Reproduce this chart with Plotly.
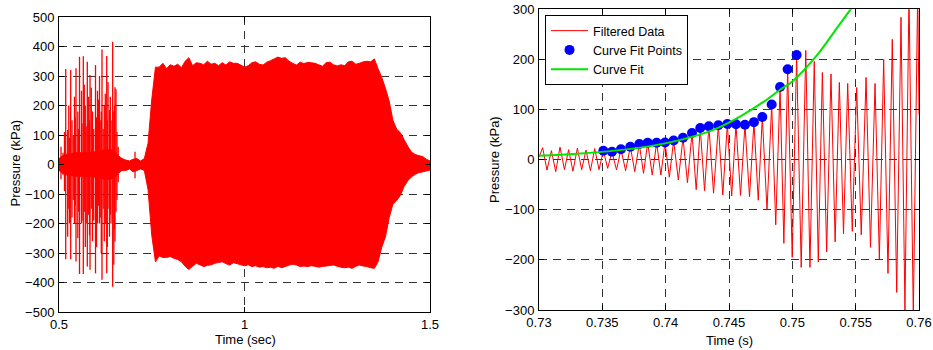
import plotly.graph_objects as go

# ---------------- Left panel data (Pressure vs Time, 0.5-1.5 s) ----------------
# envelope of the dense oscillation, read on a 0.01 s grid
env_t = [round(0.50 + 0.01 * i, 2) for i in range(101)]
env_hi = [20, 30, 35, 35, 40, 40, 40, 40, 40, 40, 45, 45, 50, 50, 50, 45, 30,
          20, 15, 12, 18, 20, 12, 20, 72, 220, 330,
          330, 343, 325, 338, 333, 340, 328, 350, 362, 335, 345, 343, 338, 350, 340, 343, 335,
          345, 337, 348, 343, 343, 337, 330, 335, 345, 348, 340, 337, 347, 352, 358, 364, 360,
          362, 350, 343, 337, 347, 342, 346, 345, 343, 338, 333, 345, 347, 338, 334, 338, 335,
          348, 350, 340, 343, 348, 350, 348, 358, 325, 295, 258, 215, 150, 120, 108, 85, 62,
          42, 34, 30, 27, 18, 12]
env_lo = [-20, -30, -35, -35, -40, -40, -40, -40, -40, -40, -45, -45, -50, -50, -50, -45, -30,
          -20, -20, -15, -25, -20, -15, -20, -85, -240, -330,
          -310, -315, -315, -312, -318, -322, -330, -345, -356, -345, -335, -340, -346, -342,
          -340, -335, -332, -330, -336, -341, -333, -336, -340, -343, -340, -346, -343, -348,
          -346, -350, -348, -352, -345, -350, -346, -341, -338, -341, -346, -344, -346, -343,
          -345, -348, -346, -344, -342, -341, -345, -348, -350, -348, -352, -345, -341, -344,
          -346, -350, -352, -330, -280, -245, -180, -135, -122, -105, -75, -55, -42, -33, -28,
          -25, -22, -19]

# individual spikes of the early bursts
spike_t = [0.5054, 0.5108, 0.5148, 0.5181, 0.5234, 0.5264, 0.5283, 0.5315, 0.5350, 0.5385,
           0.5418, 0.5437, 0.5458, 0.5507, 0.5526, 0.5553, 0.5606, 0.5620, 0.5655, 0.5682,
           0.5709, 0.5733, 0.5763, 0.5800, 0.5822, 0.5836, 0.5870, 0.5903, 0.5935, 0.5984,
           0.6011, 0.6038, 0.6065, 0.6092, 0.6127, 0.6140, 0.6159, 0.6191, 0.6221, 0.6248,
           0.6286, 0.6302, 0.6321, 0.6361, 0.6383, 0.6402, 0.6447, 0.6477, 0.6496, 0.6509,
           0.6536, 0.6563, 0.6596, 0.7049]
spike_hi = [60, 40, 110, 324, 117, 200, 90, 320, 150, 100,
            230, 160, 326, 180, 120, 365, 250, 140, 367, 270,
            200, 130, 348, 230, 150, 303, 260, 180, 120, 337,
            160, 250, 220, 300, 150, 180, 390, 120, 200, 240,
            368, 150, 280, 185, 230, 150, 416, 180, 200, 262,
            255, 110, 60, 43]
spike_lo = [-50, -35, -90, -321, -245, -150, -200, -321, -180, -120,
            -200, -140, -329, -250, -160, -371, -200, -190, -371, -160,
            -280, -200, -346, -170, -240, -357, -150, -260, -190, -369,
            -280, -200, -140, -200, -180, -300, -391, -150, -260, -200,
            -369, -280, -150, -245, -170, -200, -414, -340, -220, -262,
            -160, -120, -60, -47]

# ---------------- Right panel data (zoom 0.73-0.76 s) ----------------
fd_start_t = 0.73
fd_start_v = 5
fd_peak_t = [0.73029, 0.73098, 0.73166, 0.73234, 0.73303, 0.73371, 0.73440, 0.73508, 0.73576,
             0.73647, 0.73721, 0.73792, 0.73858, 0.73929, 0.73995, 0.74063, 0.74137, 0.74208,
             0.74273, 0.74341, 0.74416, 0.74487, 0.74555, 0.74626, 0.74697, 0.74763, 0.74837,
             0.74903, 0.74963, 0.75034, 0.75106, 0.75173, 0.75237, 0.75305, 0.75371, 0.75437,
             0.75508, 0.75582, 0.75653, 0.75721, 0.75789, 0.75858, 0.75921, 0.75990]
fd_peak_v = [24, 18, 25, 20, 23, 19, 22, 17.9, 15.9, 20.7, 25.8, 31.2, 33.8, 33.8, 34.2, 38.2,
             43.6, 53.2, 63.2, 66.6, 68.6, 71.2, 70.8, 69.8, 74.8, 85.1, 109.9, 145, 180.5, 208.9,
             218, 196, 174, 171, 154, 152, 144, 164, 152, 200, 240, 284, 330, 340]
fd_trough_t = [0.73063, 0.73132, 0.73201, 0.73268, 0.73337, 0.73406, 0.73474, 0.73542, 0.73612,
               0.73684, 0.73756, 0.73825, 0.73894, 0.73962, 0.74029, 0.74100, 0.74172, 0.74241,
               0.74307, 0.74378, 0.74451, 0.74521, 0.74591, 0.74662, 0.74731, 0.74800, 0.74869,
               0.74933, 0.74999, 0.75070, 0.75139, 0.75205, 0.75271, 0.75338, 0.75404, 0.75473,
               0.75544, 0.75617, 0.75687, 0.75755, 0.75824, 0.75889, 0.75955, 0.76000]
fd_trough_v = [-21, -24, -20, -23, -20, -22, -20, -17.3, -20.6, -22, -24, -27.3, -30.6, -30.6,
               -35, -40.6, -46, -60, -62, -67, -70.5, -72.5, -71.5, -74, -81, -100, -130, -167,
               -195, -215, -215, -204, -184, -164, -148, -143, -150, -175, -198, -227, -265,
               -300, -310, 90]

fitpts_t = [0.73508, 0.73576, 0.73647, 0.73721, 0.73792, 0.73858, 0.73929, 0.73995, 0.74063,
            0.74137, 0.74208, 0.74273, 0.74341, 0.74416, 0.74487, 0.74555, 0.74626, 0.74697,
            0.74763, 0.74837, 0.74903, 0.74963, 0.75034]
fitpts_v = [17.9, 15.9, 20.7, 25.8, 31.2, 33.8, 33.8, 34.2, 38.2, 43.6, 53.2, 63.2, 66.6, 68.6,
            71.2, 70.8, 69.8, 74.8, 85.1, 109.9, 145, 180.5, 208.9]

fit_t = [0.730, 0.733, 0.736, 0.739, 0.742, 0.744, 0.746, 0.748, 0.749, 0.750, 0.752, 0.7535,
         0.7546, 0.7552]
fit_v = [8, 12, 18, 28, 45, 62, 88, 120, 139, 156, 210, 262, 300, 322]

left_xticks = [0.5, 1, 1.5]
left_xlabels = ["0.5", "1", "1.5"]
right_xticks = [0.73, 0.735, 0.74, 0.745, 0.75, 0.755, 0.76]
right_xlabels = ["0.73", "0.735", "0.74", "0.745", "0.75", "0.755", "0.76"]

assert len(env_hi) == len(env_t) == len(env_lo)
assert len(spike_t) == len(spike_hi) == len(spike_lo)

RED = "#ff0000"
W, H = 933, 350
fig = go.Figure()

# dense block as a filled band
fig.add_trace(go.Scatter(
    x=env_t + env_t[::-1], y=env_hi + env_lo[::-1], mode="lines", fill="toself",
    fillcolor=RED, line=dict(color=RED, width=1, simplify=False), xaxis="x", yaxis="y",
    showlegend=False, hoverinfo="skip"))

sx, sy = [], []
for t, h, l in zip(spike_t, spike_hi, spike_lo):
    sx += [t, t, None]
    sy += [l, h, None]
fig.add_trace(go.Scatter(x=sx, y=sy, mode="lines",
                         line=dict(color=RED, width=1.3, simplify=False),
                         xaxis="x", yaxis="y", showlegend=False, hoverinfo="skip"))

# filtered data
fx, fy = [fd_start_t], [fd_start_v]
for pt, pv, tt, tv in zip(fd_peak_t, fd_peak_v, fd_trough_t, fd_trough_v):
    fx += [pt, tt]
    fy += [pv, tv]
fig.add_trace(go.Scatter(x=fx, y=fy, mode="lines", name="Filtered Data",
                         line=dict(color=RED, width=1, simplify=False),
                         xaxis="x2", yaxis="y2"))
fig.add_trace(go.Scatter(x=fitpts_t, y=fitpts_v, mode="markers", name="Curve Fit Points",
                         marker=dict(color="#0000ff", size=10), xaxis="x2", yaxis="y2"))
fig.add_trace(go.Scatter(x=fit_t, y=fit_v, mode="lines", name="Curve Fit",
                         line=dict(color="#00e600", width=2, shape="spline"),
                         xaxis="x2", yaxis="y2"))

axis_common = dict(showline=True, linecolor="black", linewidth=1, mirror="ticks",
                   ticks="inside", ticklen=5, tickcolor="black", showgrid=True,
                   gridcolor="#333333", griddash="8px,6px", gridwidth=1, zeroline=False,
                   automargin=False, tickfont=dict(size=13, color="black"))

fig.update_layout(
    width=W, height=H, margin=dict(l=0, r=0, t=0, b=0, autoexpand=False),
    paper_bgcolor="white", plot_bgcolor="white",
    font=dict(family="Liberation Sans, Arial, sans-serif", size=13, color="black"),
    xaxis=dict(domain=[59 / W, 430 / W], range=[0.5, 1.5], tickvals=left_xticks,
               ticktext=left_xlabels, anchor="y", ticklabelstandoff=0, **axis_common),
    yaxis=dict(domain=[1 - 312 / H, 1 - 17 / H], range=[-500, 500], dtick=100,
               tick0=0, anchor="x", ticklabelstandoff=1, **axis_common),
    xaxis2=dict(domain=[539 / W, 919 / W], range=[0.73, 0.76], tickvals=right_xticks,
                ticktext=right_xlabels, anchor="y2", ticklabelstandoff=0, **axis_common),
    yaxis2=dict(domain=[1 - 310 / H, 1 - 9.3 / H], range=[-300, 300], dtick=100,
                tick0=0, anchor="x2", ticklabelstandoff=1, **axis_common),
    legend=dict(x=545 / W, y=1 - 15 / H, xanchor="left", yanchor="top",
                bgcolor="white", bordercolor="black", borderwidth=1, itemwidth=37,
                font=dict(size=12.5), tracegroupgap=0),
    annotations=[
        dict(text="Pressure (kPa)", x=14.5 / W, y=1 - 163 / H, xref="paper", yref="paper",
             textangle=-90, showarrow=False, xanchor="center", yanchor="middle"),
        dict(text="Pressure (kPa)", x=495 / W, y=1 - 160 / H, xref="paper", yref="paper",
             textangle=-90, showarrow=False, xanchor="center", yanchor="middle"),
        dict(text="Time (sec)", x=245 / W, y=1 - 339.5 / H, xref="paper", yref="paper",
             showarrow=False, xanchor="center", yanchor="middle"),
        dict(text="Time (s)", x=729 / W, y=1 - 340 / H, xref="paper", yref="paper",
             showarrow=False, xanchor="center", yanchor="middle"),
    ],
)

fig.write_html("out.html", config={"displayModeBar": False})
